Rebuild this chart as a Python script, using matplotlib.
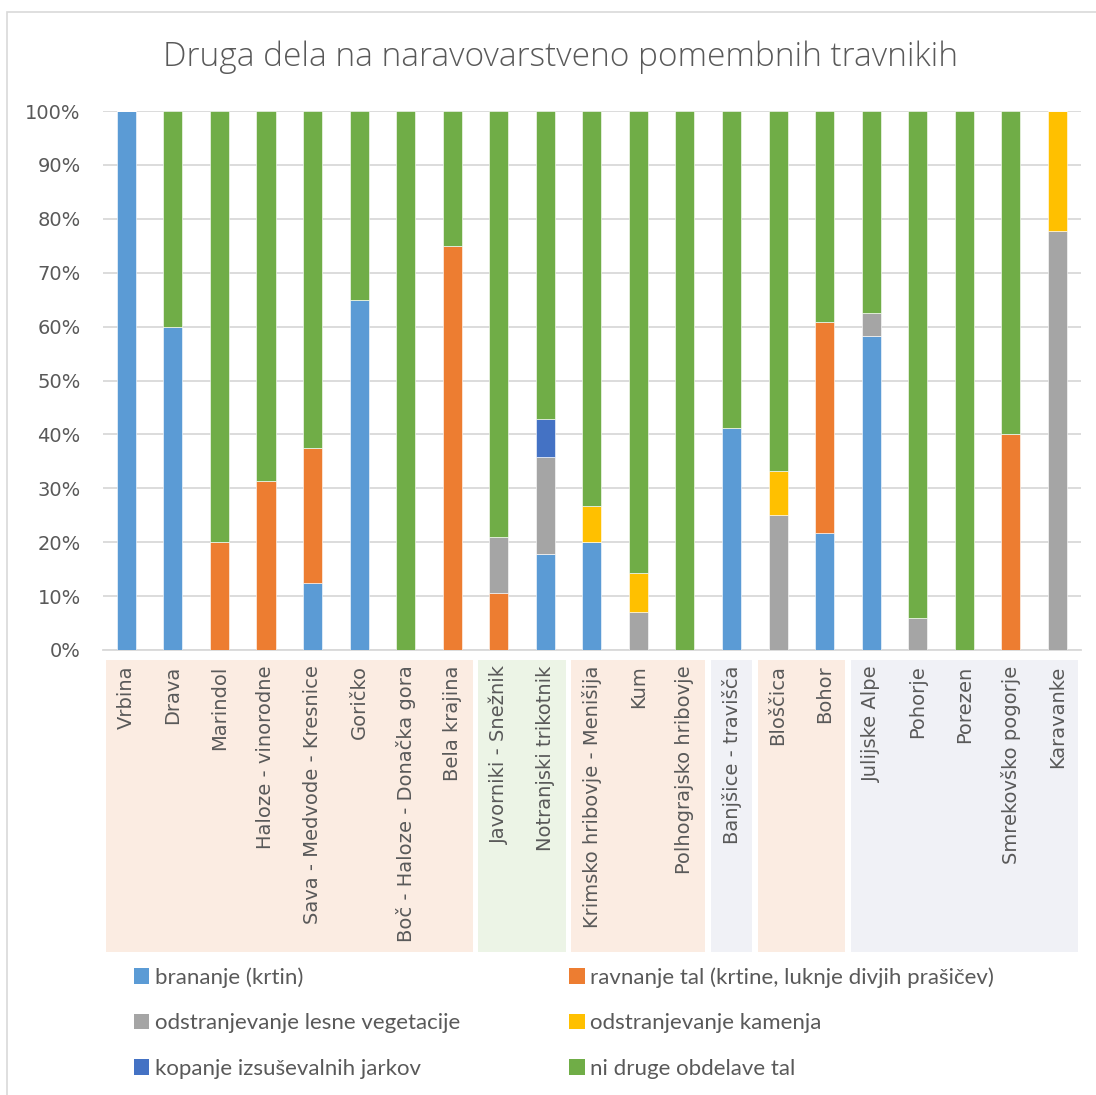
import matplotlib.pyplot as plt
import matplotlib.transforms as mtransforms
from matplotlib.patches import Rectangle, Patch
import numpy as np

#------------------------------------------------------------------------------

title = 'Druga dela na naravovarstveno pomembnih travnikih'

sites = ['Vrbina', 'Drava', 'Marindol', 'Haloze - vinorodne',
         'Sava - Medvode - Kresnice', 'Goričko', 'Boč - Haloze - Donačka gora',
         'Bela krajina', 'Javorniki - Snežnik', 'Notranjski trikotnik',
         'Krimsko hribovje - Menišija', 'Kum', 'Polhograjsko hribovje',
         'Banjšice - travišča', 'Bloščica', 'Bohor', 'Julijske Alpe',
         'Pohorje', 'Porezen', 'Smrekovško pogorje', 'Karavanke']

# shares in %
brananje   = [100, 60, 0, 0, 12.5, 65, 0, 0, 0, 17.9, 20, 0, 0, 41.2, 0, 21.7, 58.3, 0, 0, 0, 0]
ravnanje   = [0, 0, 20, 31.3, 25, 0, 0, 75, 10.5, 0, 0, 0, 0, 0, 0, 39.1, 0, 0, 0, 40, 0]
lesna_veg  = [0, 0, 0, 0, 0, 0, 0, 0, 10.5, 17.9, 0, 7.1, 0, 0, 25, 0, 4.2, 5.9, 0, 0, 77.8]
kamenje    = [0, 0, 0, 0, 0, 0, 0, 0, 0, 0, 6.7, 7.1, 0, 0, 8.3, 0, 0, 0, 0, 0, 22.2]
jarki      = [0, 0, 0, 0, 0, 0, 0, 0, 0, 7.1, 0, 0, 0, 0, 0, 0, 0, 0, 0, 0, 0]
ni_drugega = [0, 40, 80, 68.7, 62.5, 35, 100, 25, 79, 57.1, 73.3, 85.8, 100, 58.8, 66.7, 39.2, 37.5, 94.1, 100, 60, 0]

series = [('brananje (krtin)', brananje),
          ('ravnanje tal (krtine, luknje divjih prašičev)', ravnanje),
          ('odstranjevanje lesne vegetacije', lesna_veg),
          ('odstranjevanje kamenja', kamenje),
          ('kopanje izsuševalnih jarkov', jarki),
          ('ni druge obdelave tal', ni_drugega)]

# region groups behind the category labels: (first index, last index, colour)
groups = [(0, 7, '#fbece2'), (8, 9, '#ecf4e6'), (10, 12, '#fbece2'),
          (13, 13, '#f0f1f6'), (14, 15, '#fbece2'), (16, 20, '#f0f1f6')]

colors = ['#5b9bd5', '#ed7d31', '#a5a5a5', '#ffc000', '#4472c4', '#70ad47']
text_col = '#595959'

#------------------------------------------------------------------------------

fig = plt.figure(figsize=(10.96, 10.95), dpi=100)
ax = fig.add_axes([0.094, 0.4064, 0.892, 0.4922])

# chart frame
fig.patches.append(Rectangle((0.0065, -0.01), 1.0, 0.999, transform=fig.transFigure,
                             fill=False, edgecolor='#d9d9d9', linewidth=1.2))

x = np.arange(len(sites))
bottom = np.zeros(len(sites))
handles = []
for (name, vals), c in zip(series, colors):
    vals = np.array(vals, dtype=float)
    ax.bar(x, vals, 0.41, bottom=bottom, color=c, edgecolor='white',
           linewidth=0.4, zorder=3)
    bottom += vals
    handles.append(Patch(facecolor=c, label=name))

ax.set_xlim(-0.5, len(sites) - 0.5)
ax.set_ylim(0, 100)
ax.set_yticks(np.arange(0, 101, 10))
ax.set_yticklabels(['%d%%' % v for v in range(0, 101, 10)])
ax.yaxis.grid(True, color='#d9d9d9', linewidth=1.3, zorder=0)
ax.set_axisbelow(True)
for s in ['top', 'right', 'left']:
    ax.spines[s].set_visible(False)
ax.spines['bottom'].set_color('#d9d9d9')
ax.spines['bottom'].set_linewidth(1.3)
ax.tick_params(axis='both', length=0, colors=text_col)
ax.tick_params(axis='y', pad=16, labelsize=14)
ax.tick_params(axis='x', pad=11)
ax.set_xticks(x)
ax.set_xticklabels(sites, rotation=90, fontsize=14, color=text_col)

# shaded groups behind the labels
trans = mtransforms.blended_transform_factory(ax.transData, fig.transFigure)
for a, b, c in groups:
    r = Rectangle((a - 0.44, 1 - 952 / 1095), b - a + 0.88, (952 - 660) / 1095,
                  transform=trans, facecolor=c, edgecolor='none', clip_on=False,
                  zorder=-1)
    fig.patches.append(r)

fig.suptitle(title, x=0.511, y=0.963, fontsize=24, color=text_col,
             fontfamily='Open Sans', fontweight='light')

# legend in two columns, read row by row
leg_kw = dict(frameon=False, handlelength=0.7, handleheight=0.7,
              handletextpad=0.25, labelspacing=1.15, borderpad=0, labelcolor=text_col,
              prop={'family': 'Lato', 'size': 16})
leg1 = fig.legend(handles=[handles[0], handles[2], handles[4]], loc='upper left',
                  bbox_to_anchor=(0.112, 1 - 956 / 1095), **leg_kw)
leg2 = fig.legend(handles=[handles[1], handles[3], handles[5]], loc='upper left',
                  bbox_to_anchor=(0.509, 1 - 956 / 1095), **leg_kw)

fig.savefig('out.png', dpi=100)
